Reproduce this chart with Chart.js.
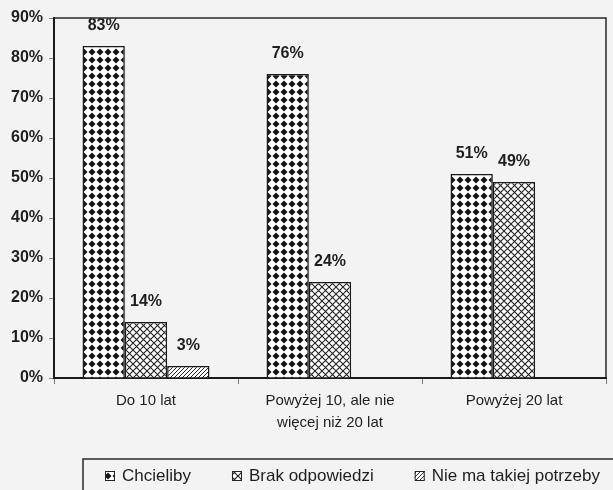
<!DOCTYPE html>
<html>
<head>
<meta charset="utf-8">
<script src="https://cdn.jsdelivr.net/npm/chart.js@4/dist/chart.umd.min.js"></script>
<style>
  html, body { margin: 0; padding: 0; background: #f3f3f3; }
  canvas { display: block; }
</style>
</head>
<body>
<canvas id="c" width="613" height="490"></canvas>
<script>
// Data
const categories = ['Do 10 lat', ['Powyżej 10, ale nie', 'więcej niż 20 lat'], 'Powyżej 20 lat'];
const seriesNames = ['Chcieliby', 'Brak odpowiedzi', 'Nie ma takiej potrzeby'];
const chcieliby = [83, 76, 51];
const brakOdpowiedzi = [14, 24, 49];
const nieMaPotrzeby = [3, null, null];
const yTickValues = [0, 10, 20, 30, 40, 50, 60, 70, 80, 90];

const FONT = '"Liberation Sans", Arial, Helvetica, sans-serif';
const INK = '#1e1e1e';
const ctxMain = document.getElementById('c').getContext('2d');

// Fill patterns for the bars
function makePattern(size, draw) {
  const c = document.createElement('canvas');
  c.width = size; c.height = size;
  const g = c.getContext('2d');
  g.fillStyle = '#ffffff';
  g.fillRect(0, 0, size, size);
  draw(g, size);
  return ctxMain.createPattern(c, 'repeat');
}

const diamondPattern = makePattern(8, (g) => {
  g.fillStyle = '#151515';
  g.beginPath();
  g.moveTo(4, 0.5); g.lineTo(7.5, 4); g.lineTo(4, 7.5); g.lineTo(0.5, 4);
  g.closePath();
  g.fill();
});

const crossPattern = makePattern(7, (g, s) => {
  g.strokeStyle = '#222';
  g.lineWidth = 1.1;
  g.beginPath();
  g.moveTo(-1, -1); g.lineTo(s + 1, s + 1);
  g.moveTo(s + 1, -1); g.lineTo(-1, s + 1);
  g.stroke();
});

const hatchPattern = makePattern(4, (g, s) => {
  g.strokeStyle = '#222';
  g.lineWidth = 1;
  g.beginPath();
  g.moveTo(-1, s + 1); g.lineTo(s + 1, -1);
  g.moveTo(-1, 1); g.lineTo(1, -1);
  g.moveTo(s - 1, s + 1); g.lineTo(s + 1, s - 1);
  g.stroke();
});

const fills = [diamondPattern, crossPattern, hatchPattern];
const seriesValues = [chcieliby, brakOdpowiedzi, nieMaPotrzeby];

// Canvas background
const background = {
  id: 'background',
  beforeDraw(chart) {
    const c = chart.ctx;
    c.save();
    c.fillStyle = '#f3f3f3';
    c.fillRect(0, 0, chart.width, chart.height);
    c.restore();
  }
};

// Top and right edges of the plot box
const plotFrame = {
  id: 'plotFrame',
  afterDraw(chart) {
    const a = chart.chartArea, c = chart.ctx;
    c.save();
    c.strokeStyle = '#2a2a2a';
    c.lineWidth = 1.5;
    c.beginPath();
    c.moveTo(a.left, a.top);
    c.lineTo(a.right, a.top);
    c.lineTo(a.right, a.bottom);
    c.stroke();
    c.restore();
  }
};

// Percentage labels above each bar
const valueLabels = {
  id: 'valueLabels',
  afterDatasetsDraw(chart) {
    const c = chart.ctx;
    c.save();
    c.font = 'bold 16px ' + FONT;
    c.fillStyle = INK;
    c.textAlign = 'center';
    c.textBaseline = 'middle';
    chart.data.datasets.forEach((ds, i) => {
      chart.getDatasetMeta(i).data.forEach((bar, j) => {
        const v = ds.data[j];
        if (v === null || v === undefined) return;
        c.fillText(v + '%', bar.x, bar.y - 20);
      });
    });
    c.restore();
  }
};

// Boxed legend under the chart
const boxedLegend = {
  id: 'boxedLegend',
  afterDraw(chart) {
    const c = chart.ctx;
    const boxLeft = 83, boxTop = 459;
    c.save();
    c.strokeStyle = '#2a2a2a';
    c.lineWidth = 1.5;
    c.strokeRect(boxLeft, boxTop, chart.width - boxLeft + 10, chart.height - boxTop + 10);
    c.font = '17px ' + FONT;
    c.textBaseline = 'middle';
    c.textAlign = 'left';
    const cy = 476;
    let x = boxLeft + 22;
    chart.data.datasets.forEach((ds) => {
      c.fillStyle = ds.backgroundColor;
      c.fillRect(x, cy - 5, 10, 10);
      c.strokeStyle = '#222';
      c.lineWidth = 1;
      c.strokeRect(x + 0.5, cy - 4.5, 9, 9);
      c.fillStyle = INK;
      c.fillText(ds.label, x + 17, cy);
      x += 17 + c.measureText(ds.label).width + 41;
    });
    c.restore();
  }
};

new Chart(ctxMain, {
  type: 'bar',
  data: {
    labels: categories,
    datasets: seriesNames.map((name, i) => ({
      label: name,
      data: seriesValues[i],
      backgroundColor: fills[i],
      borderColor: '#1a1a1a',
      borderWidth: 1.5,
      categoryPercentage: 0.69,
      barPercentage: 1.0
    }))
  },
  options: {
    responsive: false,
    animation: false,
    devicePixelRatio: 1,
    layout: { padding: { top: 18, right: 7, bottom: 52, left: 0 } },
    plugins: {
      legend: { display: false },
      tooltip: { enabled: false }
    },
    scales: {
      x: {
        grid: {
          offset: true,
          drawOnChartArea: false,
          drawTicks: true,
          tickLength: 6,
          color: '#777'
        },
        border: { color: '#1a1a1a', width: 2 },
        ticks: {
          color: INK,
          font: { family: FONT, size: 15, lineHeight: 1.45 },
          padding: 6,
          maxRotation: 0,
          minRotation: 0
        },
        afterFit(scale) { scale.height = 60; }
      },
      y: {
        min: 0,
        max: 90,
        afterBuildTicks(scale) {
          scale.ticks = yTickValues.map(v => ({ value: v }));
        },
        grid: {
          drawOnChartArea: false,
          drawTicks: true,
          tickLength: 5,
          color: '#888'
        },
        border: { color: '#1a1a1a', width: 2 },
        ticks: {
          color: INK,
          font: { family: FONT, size: 16, weight: 'bold' },
          padding: 6,
          callback: (v) => v + '%'
        },
        afterFit(scale) { scale.width = 54; }
      }
    }
  },
  plugins: [background, plotFrame, valueLabels, boxedLegend]
});
</script>
</body>
</html>
